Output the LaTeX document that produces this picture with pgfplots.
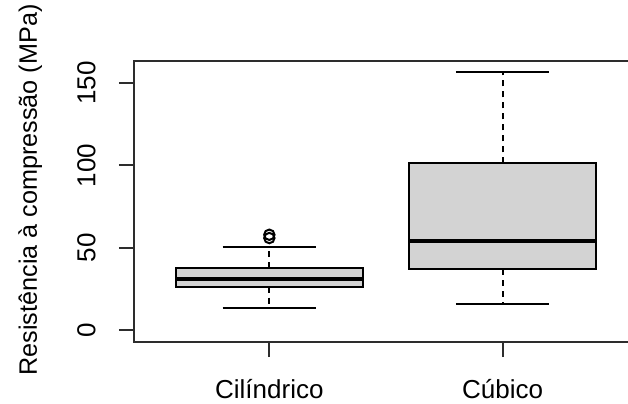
\documentclass[border=0pt]{standalone}
\usepackage{pgfplots}
\pgfplotsset{compat=1.18}
\usepackage{fontspec}
\setmainfont{Liberation Sans}
\definecolor{boxgray}{RGB}{211,211,211}
\definecolor{axgray}{RGB}{45,45,45}
\begin{document}
\begin{tikzpicture}[font=\fontsize{13}{15}\selectfont]
\begin{axis}[
  scale only axis, width=252pt, height=140.5pt,
  xmin=0.42, xmax=2.58, ymin=-7, ymax=163.3,
  axis line style={axgray, line width=1pt},
  xtick={1,2}, xticklabels={Cilíndrico, Cúbico},
  ytick={0,50,100,150},
  /pgf/number format/assume math mode=true,
  tick align=outside, tick pos=left, major tick length=7.5pt,
  every tick/.style={axgray, line width=1pt},
  yticklabel style={rotate=90, anchor=south, inner sep=0pt},
  xticklabel style={anchor=base, inner sep=0pt},
  yticklabel shift=11.5pt,
  xticklabel shift=20.5pt,
]
% Cilindrico
\addplot[black, line width=1pt, dash pattern=on 3pt off 2.5pt] coordinates {(1,37.7) (1,50.8)};
\addplot[black, line width=1pt, dash pattern=on 3pt off 2.5pt] coordinates {(1,26.5) (1,13.8)};
\addplot[black, line width=1pt] coordinates {(0.8,50.8) (1.2,50.8)};
\addplot[black, line width=1pt] coordinates {(0.8,13.8) (1.2,13.8)};
\addplot[fill=boxgray, draw=black, line width=1pt] coordinates {(0.6,26.5) (1.4,26.5) (1.4,37.7) (0.6,37.7)} -- cycle;
\addplot[black, line width=2pt] coordinates {(0.6,31.2) (1.4,31.2)};
\addplot[only marks, mark=o, mark size=2.6pt, mark options={black, line width=1pt}] coordinates {(1,56) (1,58)};
% Cubico
\addplot[black, line width=1pt, dash pattern=on 3pt off 2.5pt] coordinates {(2,101.3) (2,156.8)};
\addplot[black, line width=1pt, dash pattern=on 3pt off 2.5pt] coordinates {(2,37.1) (2,16.1)};
\addplot[black, line width=1pt] coordinates {(1.8,156.8) (2.2,156.8)};
\addplot[black, line width=1pt] coordinates {(1.8,16.1) (2.2,16.1)};
\addplot[fill=boxgray, draw=black, line width=1pt] coordinates {(1.6,37.1) (2.4,37.1) (2.4,101.3) (1.6,101.3)} -- cycle;
\addplot[black, line width=2pt] coordinates {(1.6,54.4) (2.4,54.4)};
\end{axis}
\node[rotate=90, anchor=base, font=\fontsize{12.6}{15}\selectfont] at ([shift={(-48.5pt,5.75pt)}]current axis.west) {Resistência à compressão (MPa)};
\pgfresetboundingbox
\useasboundingbox ([shift={(-67pt,-30.5pt)}]current axis.south west) rectangle ([shift={(247pt,171pt)}]current axis.south west);
\end{tikzpicture}
\end{document}
